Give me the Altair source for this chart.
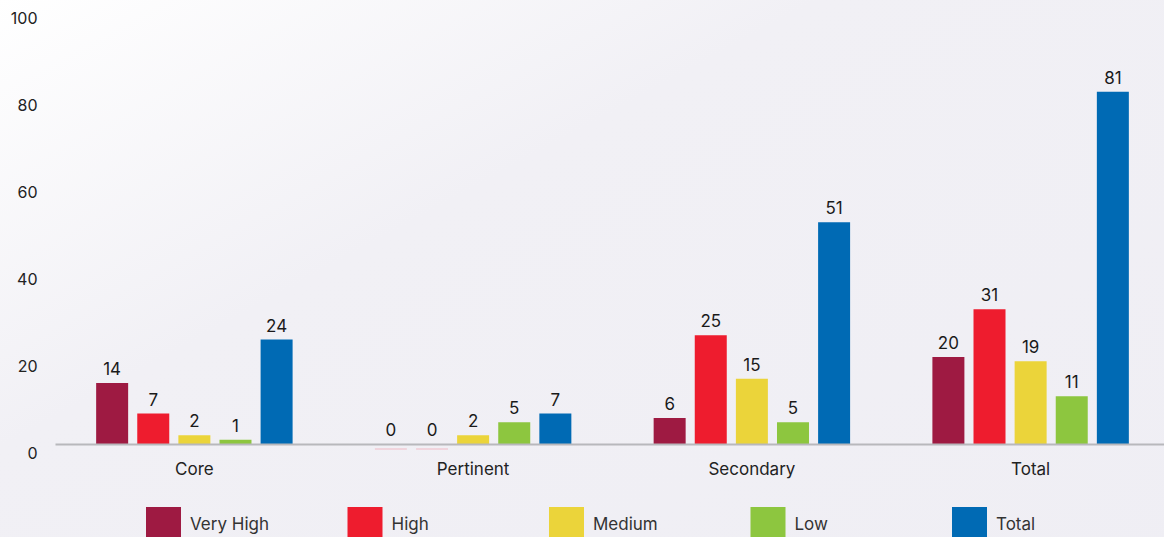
import altair as alt
import pandas as pd

groups = ["Core", "Pertinent", "Secondary", "Total"]
levels = ["Very High", "High", "Medium", "Low", "Total"]
colors = ["#9e1a42", "#ee1c2e", "#ebd43a", "#8dc63f", "#006ab4"]
very_high = [14, 0, 6, 20]
high = [7, 0, 25, 31]
medium = [2, 2, 15, 19]
low = [1, 5, 5, 11]
total = [24, 7, 51, 81]

series = [very_high, high, medium, low, total]
rows = []
for lvl, vals in zip(levels, series):
    for g, v in zip(groups, vals):
        rows.append({"group": g, "level": lvl, "value": v})
df = pd.DataFrame(rows)

FONT = "Inter"
LEFT = 55
W, H = 1164 - LEFT, 435
XR = 1115

x = alt.X("group:N", sort=groups, title=None,
          scale=alt.Scale(paddingInner=0, paddingOuter=0, range=[0, XR]),
          axis=alt.Axis(labelAngle=0, labelFontSize=17, labelColor="#222222",
                        labelFont=FONT, labelPadding=17, ticks=False,
                        domainColor="#b8b8bc", domainWidth=2, zindex=1))
xo = alt.XOffset("level:N", sort=levels,
                 scale=alt.Scale(paddingInner=0.22, paddingOuter=1.0))
y = alt.Y("value:Q", title=None,
          scale=alt.Scale(domain=[0, 100], nice=False),
          axis=alt.Axis(values=[0, 20, 40, 60, 80, 100], grid=False, domain=False,
                        ticks=False, labelFontSize=16, labelColor="#222222",
                        labelFont=FONT, labelPadding=18, labelOffset=9, zindex=1))

bg = alt.Chart(df).mark_rect(
    color=alt.Gradient(gradient="linear", x1=0, y1=0, x2=1, y2=1,
                       stops=[alt.GradientStop(color="#ffffff", offset=0),
                              alt.GradientStop(color="#f1f0f5", offset=0.35),
                              alt.GradientStop(color="#efeef4", offset=1)])
).encode(x=alt.value(-60), x2=alt.value(W + 10), y=alt.value(-10), y2=alt.value(H + 200))

bars = alt.Chart(df).mark_bar(size=32).encode(
    x=x, xOffset=xo, y=y,
    color=alt.Color("level:N", sort=levels,
                    scale=alt.Scale(domain=levels, range=colors),
                    legend=alt.Legend(title=None, orient="none", legendX=91, legendY=498,
                                      direction="horizontal", columns=5,
                                      gridAlign="all", columnPadding=77.5,
                                      symbolType="square", symbolSize=1225,
                                      symbolStrokeWidth=0, labelFontSize=17,
                                      labelFont=FONT, labelColor="#333333",
                                      labelOffset=9, padding=0, labelLimit=200)),
)

zero_ticks = alt.Chart(df).transform_filter(alt.datum.value == 0).mark_tick(
    orient="horizontal", size=32, thickness=1, yOffset=5, color="#f2a7b3"
).encode(x=x, xOffset=xo, y=y)

labels = alt.Chart(df).mark_text(baseline="bottom", dy=-4, fontSize=17, font=FONT,
                                 color="#1a1a1a").encode(
    x=x, xOffset=xo, y=y, text="value:Q")

chart = alt.layer(bg, bars, zero_ticks, labels).properties(
    width=W, height=H,
    autosize=alt.AutoSizeParams(type="none"),
    padding={"left": LEFT, "top": 9, "right": 0, "bottom": 100},
    background="#efeef4",
).configure_view(stroke=None)

chart.save("out.html", embed_options={"renderer": "svg", "actions": False})
